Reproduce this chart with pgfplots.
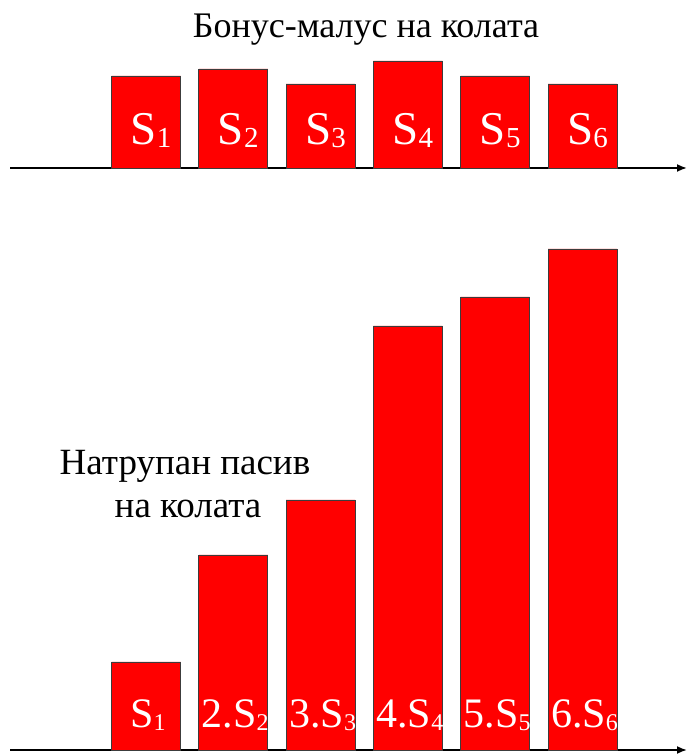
\documentclass[border=0pt]{standalone}
\usepackage{pgfplots}
\pgfplotsset{compat=1.18}
\usepackage{pgfplotstable}
\usepackage{fontspec}
\setmainfont{Liberation Serif}
\usetikzlibrary{arrows.meta}

\definecolor{barred}{RGB}{255,0,0}
\definecolor{baredge}{RGB}{60,60,60}

% subscript as drawn on the slide: big, slightly lowered
\newcommand{\sbig}[1]{\raisebox{-3pt}{\fontsize{29}{29}\selectfont #1}}
\newcommand{\ssmall}[1]{\raisebox{-2pt}{\fontsize{24}{24}\selectfont #1}}

% bonus-malus per year
\pgfplotstableread{
x  h    lab
1  92   {S\sbig{1}}
2  99   {S\sbig{2}}
3  84   {S\sbig{3}}
4  107  {S\sbig{4}}
5  92   {S\sbig{5}}
6  84   {S\sbig{6}}
}\bonus

% accumulated liability
\pgfplotstableread{
x  h    lab
1  88   {S\ssmall{1}}
2  195  {2.S\ssmall{2}}
3  250  {3.S\ssmall{3}}
4  424  {4.S\ssmall{4}}
5  453  {5.S\ssmall{5}}
6  501  {6.S\ssmall{6}}
}\pasiv

\pgfplotsset{
  slide/.style={
    scale only axis,
    width=677pt,
    xmin=-0.558, xmax=7.197,
    ymin=0,
    axis x line=bottom,
    axis y line=none,
    xtick=\empty, ytick=\empty,
    x axis line style={-{Latex[length=10pt,width=8pt]}, line width=1.8pt},
    clip=false,
  },
  slidebar/.style={
    ybar, bar width=69pt, bar shift=0pt,
    fill=barred, draw=baredge, line width=0.8pt,
  },
}

\begin{document}
\begin{tikzpicture}[x=1pt,y=1pt]
\useasboundingbox (0,0) rectangle (687,754);

\node[anchor=base, font=\fontsize{36}{36}\selectfont] at (366,716) {Бонус-малус на колата};

\begin{axis}[slide, at={(10pt,586pt)}, anchor=south west, height=120pt, ymax=120]
  \addplot[slidebar] table[x=x, y=h] {\bonus};
  \addplot[ybar, bar width=69pt, bar shift=0pt, draw=none, fill=none,
    nodes near coords, point meta=explicit symbolic,
    every node near coord/.append style={anchor=base, inner sep=0pt, xshift=5pt,
      text=white, font=\fontsize{47}{47}\selectfont}]
    table[x=x, y expr=23, meta=lab] {\bonus};
\end{axis}

\begin{axis}[slide, at={(10pt,4pt)}, anchor=south west, height=520pt, ymax=520]
  \addplot[slidebar] table[x=x, y=h] {\pasiv};
  \addplot[ybar, bar width=69pt, bar shift=0pt, draw=none, fill=none,
    nodes near coords, point meta=explicit symbolic,
    every node near coord/.append style={anchor=base, inner sep=0pt, xshift=2pt,
      text=white, font=\fontsize{42}{42}\selectfont}]
    table[x=x, y expr=22, meta=lab] {\pasiv};
\end{axis}

\node[anchor=base, inner sep=0pt, font=\fontsize{37}{37}\selectfont] at (185,279) {Натрупан пасив};
\node[anchor=base, inner sep=0pt, font=\fontsize{37}{37}\selectfont] at (188,236) {на колата};
\end{tikzpicture}
\end{document}
